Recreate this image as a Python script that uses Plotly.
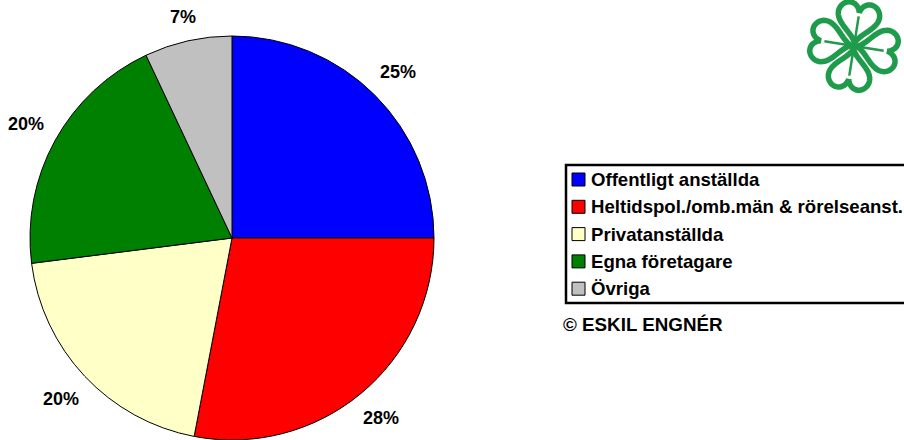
import numpy as np
import plotly.graph_objects as go

labels = ["Offentligt anställda", "Heltidspol./omb.män & rörelseanst.", "Privatanställda",
          "Egna företagare", "Övriga"]
values = [25, 28, 20, 20, 7]
colors = ["#0000FF", "#FF0000", "#FFFFC8", "#008000", "#C0C0C0"]
credit = "© ESKIL ENGNÉR"

W, H = 904, 440
FONT = "Liberation Sans, Arial, sans-serif"

def px(x, y):
    return x / W, 1 - y / H

fig = go.Figure()
cx, cy, r = 232, 238, 202
fig.add_trace(go.Pie(
    labels=labels, values=values, sort=False, direction="clockwise", rotation=0,
    marker=dict(colors=colors, line=dict(color="black", width=1)),
    textinfo="none", hoverinfo="label+percent", showlegend=False,
    domain=dict(x=[(cx - r) / W, (cx + r) / W], y=[0, 2 * r / H]),
))

annotations = []
shapes = []
# percentage labels outside slices (box edge kept at fixed distance from centre)
total = sum(values)
cum = 0
for v in values:
    mid = (cum + v / 2) / total * 2 * np.pi
    cum += v
    txt = f"{round(v / total * 100)}%"
    dx, dy = np.sin(mid), -np.cos(mid)
    bw = 10 * (len(txt) - 1) + 16
    bh = 16
    dist = 216 + abs(dx) * bw / 2 + abs(dy) * bh / 2
    x, y = px(cx + dist * dx, cy + dist * dy)
    annotations.append(dict(x=x, y=y, xref="paper", yref="paper", showarrow=False,
                            text=txt,
                            font=dict(family=FONT, size=18, color="black", weight="bold"),
                            xanchor="center", yanchor="middle"))

# legend (manual)
x0, y0 = px(566, 165)
x1, y1 = px(915, 303)
shapes.append(dict(type="rect", xref="paper", yref="paper", x0=x0, y0=y0, x1=x1, y1=y1,
                   line=dict(color="black", width=2.5), fillcolor="white", layer="below"))
for i, (lab, col) in enumerate(zip(labels, colors)):
    yc = 179.5 + 27.3 * i
    a0, b0 = px(572, yc - 6.5)
    a1, b1 = px(585, yc + 6.5)
    shapes.append(dict(type="rect", xref="paper", yref="paper", x0=a0, y0=b0, x1=a1, y1=b1,
                       line=dict(color="black", width=1), fillcolor=col))
    tx, ty = px(589, yc)
    annotations.append(dict(x=tx, y=ty, xref="paper", yref="paper", showarrow=False,
                            text=lab, xanchor="left", yanchor="middle",
                            font=dict(family=FONT, size=18.6, color="black", weight="bold")))

tx, ty = px(561, 324)
annotations.append(dict(x=tx, y=ty, xref="paper", yref="paper", showarrow=False,
                        text=credit, xanchor="left", yanchor="middle",
                        font=dict(family=FONT, size=18.8, color="black", weight="bold")))

# clover logo
green = "rgb(30,155,75)"
lcx, lcy = 854, 46
t = np.linspace(0, 2 * np.pi, 90)
hx = 16 * np.sin(t) ** 3
hy = 13 * np.cos(t) - 5 * np.cos(2 * t) - 2 * np.cos(3 * t) - np.cos(4 * t)
hy = hy + 17  # point at origin, lobes outward (+y)
for k in range(4):
    ang = np.deg2rad(9 + 90 * k)
    ux, uy = np.sin(ang), -np.cos(ang)      # outward direction (pixel coords)
    vx, vy = -uy, ux                        # perpendicular
    sx, sl = 1.3, 1.42
    pts_x = lcx + ux * (hy * sl + 2) + vx * hx * sx
    pts_y = lcy + uy * (hy * sl + 2) + vy * hx * sx
    path = "M " + " L ".join(f"{px(a, b)[0]:.5f},{px(a, b)[1]:.5f}" for a, b in zip(pts_x, pts_y)) + " Z"
    shapes.append(dict(type="path", xref="paper", yref="paper", path=path,
                       line=dict(color=green, width=5.5), fillcolor="rgba(0,0,0,0)"))
    # vein
    va = px(lcx + ux * 8, lcy + uy * 8)
    vb = px(lcx + ux * 30, lcy + uy * 30)
    shapes.append(dict(type="line", xref="paper", yref="paper", x0=va[0], y0=va[1],
                       x1=vb[0], y1=vb[1], line=dict(color=green, width=2.5)))

fig.update_layout(
    width=W, height=H, margin=dict(l=0, r=0, t=0, b=0),
    paper_bgcolor="white", plot_bgcolor="white",
    annotations=annotations, shapes=shapes, showlegend=False,
)
fig.write_html("out.html", config={"displayModeBar": False},
               post_script="document.body.style.margin='0';")
